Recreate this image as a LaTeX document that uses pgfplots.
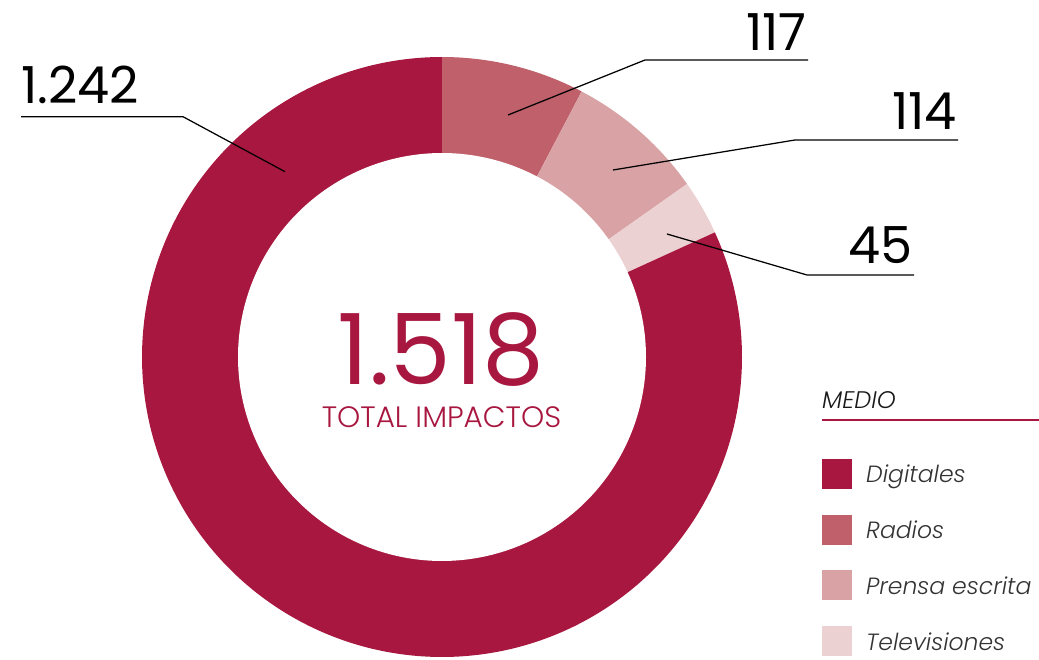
\documentclass[border=0pt]{standalone}
\usepackage{pgfplots}
\pgfplotsset{compat=1.18}
\usepackage{fontspec}
\setmainfont{Poppins}
\newfontfamily\plight{Poppins Light}
\definecolor{dig}{HTML}{A8173F}
\definecolor{rad}{HTML}{BF606B}
\definecolor{pre}{HTML}{D9A3A6}
\definecolor{tel}{HTML}{ECD1D3}
\definecolor{txt}{HTML}{333333}
% data
\def\vDig{1242}
\def\vRad{117}
\def\vPre{114}
\def\vTel{45}
\pgfmathsetmacro\tot{\vDig+\vRad+\vPre+\vTel}
\pgfmathsetmacro\aA{90}
\pgfmathsetmacro\aB{90-360*(\vRad/\tot)}
\pgfmathsetmacro\aC{\aB-360*(\vPre/\tot)}
\pgfmathsetmacro\aD{\aC-360*(\vTel/\tot)}
\pgfmathsetmacro\aE{\aD-360*(\vDig/\tot)}
\def\cx{442}
\def\cy{302}
\def\ro{300}
\def\ri{204}
\begin{document}
\begin{tikzpicture}
\begin{axis}[scale only axis, width=1039pt, height=659pt,
  xmin=0, xmax=1039, ymin=0, ymax=659, hide axis, clip=false,
  at={(0pt,0pt)}, anchor=origin]
\addplot[fill=rad, draw=none, domain=\aB:\aA, samples=40, variable=\t]
  ({\cx+\ro*cos(\t)},{\cy+\ro*sin(\t)}) -- (axis cs:\cx,\cy) -- cycle;
\addplot[fill=pre, draw=none, domain=\aC:\aB, samples=40, variable=\t]
  ({\cx+\ro*cos(\t)},{\cy+\ro*sin(\t)}) -- (axis cs:\cx,\cy) -- cycle;
\addplot[fill=tel, draw=none, domain=\aD:\aC, samples=20, variable=\t]
  ({\cx+\ro*cos(\t)},{\cy+\ro*sin(\t)}) -- (axis cs:\cx,\cy) -- cycle;
\addplot[fill=dig, draw=none, domain=\aE:\aD, samples=300, variable=\t]
  ({\cx+\ro*cos(\t)},{\cy+\ro*sin(\t)}) -- (axis cs:\cx,\cy) -- cycle;
\addplot[fill=white, draw=none, domain=0:360, samples=300, variable=\t]
  ({\cx+\ri*cos(\t)},{\cy+\ri*sin(\t)}) -- cycle;
% leader lines
\draw[line width=1.25pt, black] (axis cs:21,542.3) -- (axis cs:183,542.3) -- (axis cs:285,487.3);
\draw[line width=1.25pt, black] (axis cs:808,599) -- (axis cs:645,599) -- (axis cs:508,544);
\draw[line width=1.25pt, black] (axis cs:958,519) -- (axis cs:795,519) -- (axis cs:613,489);
\draw[line width=1.25pt, black] (axis cs:914,384) -- (axis cs:807,384) -- (axis cs:667,425);
% value labels
\node[anchor=base west, inner sep=0pt, font=\fontsize{51}{60}\selectfont] at (axis cs:21,555) {1.242};
\node[anchor=base east, inner sep=0pt, font=\fontsize{51}{60}\selectfont] at (axis cs:807,608) {117};
\node[anchor=base east, inner sep=0pt, font=\fontsize{51}{60}\selectfont] at (axis cs:957,529) {114};
\node[anchor=base east, inner sep=0pt, font=\fontsize{51}{60}\selectfont] at (axis cs:913,395) {45};
% center
\node[anchor=base, inner sep=0pt, text depth=0pt, text=dig, font=\fontsize{98}{110}\selectfont] at (axis cs:441,274) {1.518};
\node[anchor=base, inner sep=0pt, text=dig, font=\plight\fontsize{29.5}{32}\selectfont] at (axis cs:441.5,231) {TOTAL IMPACTOS};
% legend
\node[anchor=base west, inner sep=0pt, text=black!90, font=\plight\fontsize{24}{28}\selectfont\itshape] at (axis cs:822,250) {MEDIO};
\draw[dig, line width=1.5pt] (axis cs:822,239) -- (axis cs:1039,239);
\fill[dig] (axis cs:822,170) rectangle (axis cs:852,200);
\fill[rad] (axis cs:822,114) rectangle (axis cs:852,144);
\fill[pre] (axis cs:822,59) rectangle (axis cs:852,89);
\fill[tel] (axis cs:822,3) rectangle (axis cs:852,33);
\node[anchor=base west, inner sep=0pt, text=txt, font=\plight\fontsize{23.5}{28}\selectfont\itshape] at (axis cs:866,176) {Digitales};
\node[anchor=base west, inner sep=0pt, text=txt, font=\plight\fontsize{23.5}{28}\selectfont\itshape] at (axis cs:866,120) {Radios};
\node[anchor=base west, inner sep=0pt, text=txt, font=\plight\fontsize{23.5}{28}\selectfont\itshape] at (axis cs:866,65) {Prensa escrita};
\node[anchor=base west, inner sep=0pt, text=txt, font=\plight\fontsize{23.5}{28}\selectfont\itshape] at (axis cs:866,9) {Televisiones};
\end{axis}
\pgfresetboundingbox
\path (0pt,0pt) rectangle (1039pt,659pt);
\end{tikzpicture}
\end{document}
